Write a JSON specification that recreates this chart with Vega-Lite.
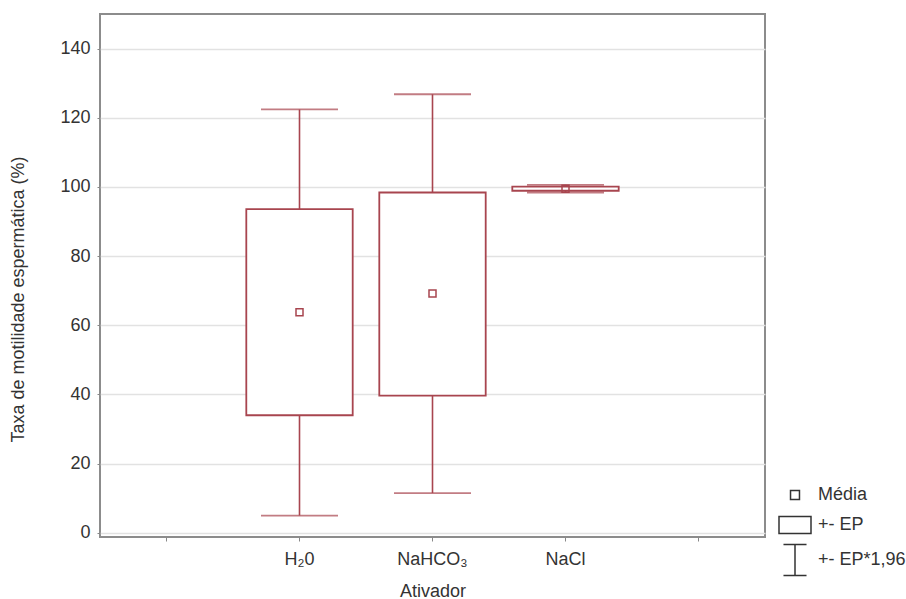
{
  "$schema": "https://vega.github.io/schema/vega-lite/v6.json",
  "width": 665,
  "height": 523,
  "autosize": {"type": "none"},
  "padding": {"left": 100, "top": 14, "right": 141, "bottom": 62},
  "background": "white",
  "config": {
    "font": "Liberation Sans",
    "view": {"stroke": "#8c8c8c", "strokeWidth": 2},
    "axis": {"labelFont": "Liberation Sans", "titleFont": "Liberation Sans", "labelColor": "#333", "titleColor": "#333", "titleFontWeight": "normal"}
  },
  "data": {
    "values": [
      {"Ativador": "H₂0", "media": 63.8, "ep_low": 34.0, "ep_high": 93.6, "ic_low": 5.0, "ic_high": 122.4, "legenda": "Média"},
      {"Ativador": "NaHCO₃", "media": 69.2, "ep_low": 39.7, "ep_high": 98.4, "ic_low": 11.5, "ic_high": 126.8, "legenda": "Média"},
      {"Ativador": "NaCl", "media": 99.5, "ep_low": 98.9, "ep_high": 100.1, "ic_low": 98.4, "ic_high": 100.6, "legenda": "Média"}
    ]
  },
  "encoding": {
    "x": {
      "field": "Ativador",
      "type": "nominal",
      "sort": null,
      "scale": {"type": "band", "domain": ["_a", "H₂0", "NaHCO₃", "NaCl", "_b"], "paddingInner": 0, "paddingOuter": 0},
      "axis": {
        "title": "Ativador",
        "labelExpr": "indexof(datum.value, '_') == 0 ? '' : datum.value",
        "labelAngle": 0,
        "labelFontSize": 18,
        "titleFontSize": 18,
        "bandPosition": 0.5,
        "domain": false,
        "tickColor": "#888",
        "tickSize": 4,
        "labelPadding": 9,
        "titleY": 54,
        "titleBaseline": "middle",
        "grid": false
      }
    }
  },
  "layer": [
    {
      "mark": {"type": "rule", "color": "#a8454f", "strokeWidth": 1.6},
      "encoding": {
        "y": {"field": "ic_low", "type": "quantitative"},
        "y2": {"field": "ic_high"}
      }
    },
    {
      "mark": {"type": "bar", "fill": "white", "stroke": "#a8454f", "strokeWidth": 1.8, "width": {"band": 0.8}},
      "encoding": {
        "y": {
          "field": "ep_low",
          "type": "quantitative",
          "scale": {"domain": [-1.2, 150], "nice": false, "zero": false},
          "axis": {
            "title": "Taxa de motilidade espermática (%)",
            "values": [0, 20, 40, 60, 80, 100, 120, 140],
            "labelFontSize": 18,
            "titleFontSize": 18,
            "grid": true,
            "gridColor": "#e2e2e2",
            "gridWidth": 1.5,
            "domain": false,
            "tickColor": "#888",
            "tickSize": 3,
            "labelPadding": 7,
            "titleX": -82,
            "titleY": 285,
            "titleAlign": "center",
            "titleBaseline": "middle",
            "titleAngle": -90
          }
        },
        "y2": {"field": "ep_high"}
      }
    },
    {
      "mark": {"type": "tick", "color": "#a8454f", "thickness": 1.8, "size": 77},
      "encoding": {"y": {"field": "ic_low", "type": "quantitative"}}
    },
    {
      "mark": {"type": "tick", "color": "#a8454f", "thickness": 1.8, "size": 77},
      "encoding": {"y": {"field": "ic_high", "type": "quantitative"}}
    },
    {
      "mark": {"type": "point", "filled": false, "stroke": "#a8454f", "strokeWidth": 1.5, "size": 625, "opacity": 1},
      "encoding": {
        "y": {"field": "media", "type": "quantitative"},
        "shape": {
          "field": "legenda",
          "type": "nominal",
          "scale": {
            "domain": ["Média", "+- EP", "+- EP*1,96"],
            "range": [
              "M-0.28,-0.28H0.28V0.28H-0.28Z",
              "M-1,-0.53H1V0.53H-1Z",
              "M-0.72,-0.97H0.72M0,-0.97V0.97M-0.72,0.97H0.72"
            ]
          },
          "legend": {
            "title": null,
            "orient": "none",
            "legendX": 678,
            "legendY": 464,
            "padding": 0,
            "symbolSize": 1024,
            "symbolStrokeColor": "#333",
            "symbolFillColor": "white",
            "symbolStrokeWidth": 1.5,
            "labelFont": "Liberation Sans",
            "labelFontSize": 18,
            "labelColor": "#333",
            "labelOffset": 6,
            "rowPadding": 4
          }
        }
      }
    }
  ]
}
